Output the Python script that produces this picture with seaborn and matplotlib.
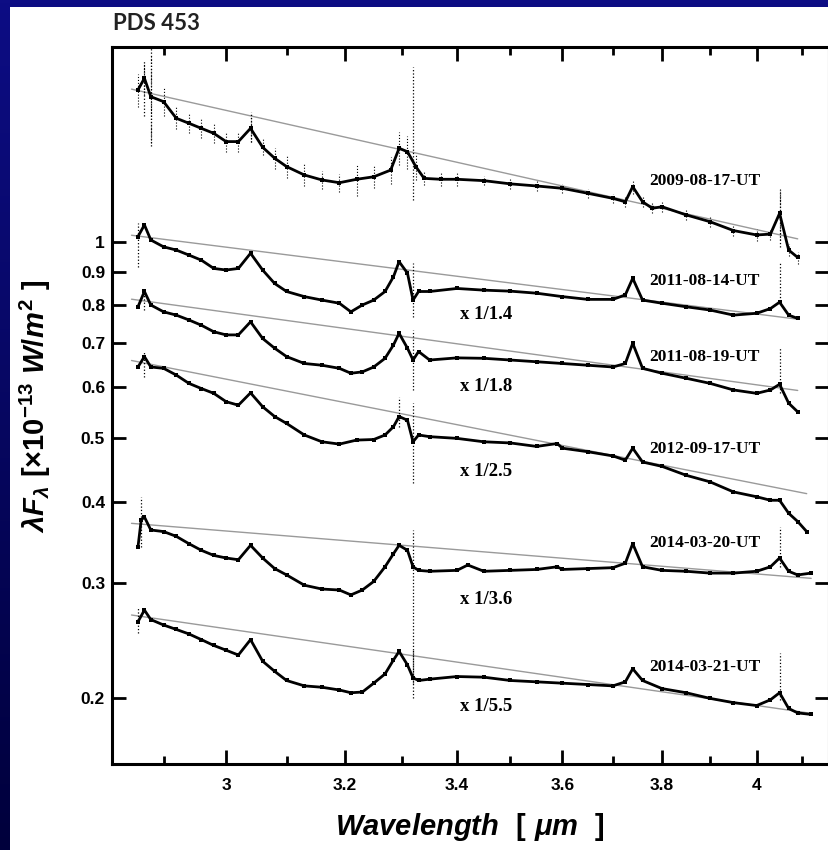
import numpy as np
import pandas as pd
import seaborn as sns
import matplotlib.pyplot as plt
from matplotlib.colors import LinearSegmentedColormap
from matplotlib.patches import Rectangle
from matplotlib.ticker import NullFormatter

# observation epochs and the scaling applied to each spectrum
epochs = ['2009-08-17-UT', '2011-08-14-UT', '2011-08-19-UT',
          '2012-09-17-UT', '2014-03-20-UT', '2014-03-21-UT']
scales = ['', 'x 1/1.4', 'x 1/1.8', 'x 1/2.5', 'x 1/3.6', 'x 1/5.5']

# spectra (wavelength in micron, lambda F_lambda in 1e-13 W/m2)
wl_1 = [2.86, 2.87, 2.88, 2.90, 2.92, 2.94, 2.96, 2.98, 3.00, 3.02, 3.04, 3.06, 3.08,
        3.10, 3.13, 3.16, 3.19, 3.22, 3.25, 3.28, 3.295, 3.31, 3.325, 3.34, 3.37, 3.40,
        3.45, 3.50, 3.55, 3.60, 3.65, 3.70, 3.725, 3.74, 3.76, 3.78, 3.80, 3.85, 3.90,
        3.95, 4.00, 4.03, 4.05, 4.07, 4.09]
flux_1 = [1.707, 1.779, 1.667, 1.638, 1.545, 1.518, 1.491, 1.465, 1.423, 1.423, 1.491,
          1.395, 1.342, 1.303, 1.265, 1.243, 1.231, 1.246, 1.257, 1.287, 1.390, 1.373,
          1.303, 1.250, 1.246, 1.246, 1.240, 1.226, 1.217, 1.207, 1.186, 1.165, 1.151,
          1.214, 1.151, 1.125, 1.131, 1.099, 1.073, 1.040, 1.024, 1.027, 1.105, 0.971,
          0.946]
err_1 = [0.10, 0.10, 0.25, 0.08, 0.06, 0.05, 0.05, 0.05, 0.05, 0.05, 0.07, 0.04, 0.05,
         0.05, 0.05, 0.04, 0.04, 0.07, 0.05, 0.06, 0.08, 0.08, 0.06, 0.03, 0.03, 0.03,
         0.02, 0.02, 0.02, 0.02, 0.02, 0.02, 0.02, 0.03, 0.02, 0.02, 0.02, 0.02, 0.02,
         0.02, 0.02, 0.02, 0.10, 0.02, 0.02]

wl_2 = [2.86, 2.87, 2.88, 2.90, 2.92, 2.94, 2.96, 2.98, 3.00, 3.02, 3.04, 3.06, 3.08,
        3.10, 3.13, 3.16, 3.19, 3.21, 3.23, 3.25, 3.27, 3.285, 3.295, 3.31, 3.32, 3.33,
        3.35, 3.40, 3.45, 3.50, 3.55, 3.60, 3.65, 3.70, 3.725, 3.74, 3.76, 3.80, 3.85,
        3.90, 3.95, 4.00, 4.03, 4.05, 4.07, 4.09]
flux_2 = [1.018, 1.061, 1.006, 0.982, 0.971, 0.954, 0.937, 0.910, 0.905, 0.910, 0.960,
          0.905, 0.863, 0.839, 0.824, 0.814, 0.805, 0.781, 0.800, 0.814, 0.839, 0.884,
          0.932, 0.895, 0.814, 0.839, 0.839, 0.848, 0.843, 0.840, 0.834, 0.824, 0.816,
          0.816, 0.829, 0.879, 0.814, 0.805, 0.795, 0.786, 0.772, 0.777, 0.790, 0.808,
          0.772, 0.763]

wl_3 = wl_2
flux_3 = [0.795, 0.839, 0.800, 0.781, 0.772, 0.759, 0.745, 0.728, 0.720, 0.720, 0.754,
          0.711, 0.687, 0.667, 0.651, 0.647, 0.640, 0.629, 0.632, 0.643, 0.663, 0.695,
          0.724, 0.687, 0.659, 0.679, 0.659, 0.664, 0.663, 0.659, 0.655, 0.651, 0.647,
          0.643, 0.651, 0.699, 0.640, 0.629, 0.618, 0.607, 0.593, 0.586, 0.593, 0.605,
          0.566, 0.549]

wl_4 = [2.86, 2.87, 2.88, 2.90, 2.92, 2.94, 2.96, 2.98, 3.00, 3.02, 3.04, 3.06, 3.08,
        3.10, 3.13, 3.16, 3.19, 3.22, 3.25, 3.27, 3.285, 3.295, 3.31, 3.32, 3.33, 3.35,
        3.40, 3.45, 3.50, 3.55, 3.59, 3.60, 3.65, 3.70, 3.725, 3.74, 3.76, 3.80, 3.85,
        3.90, 3.95, 4.00, 4.03, 4.05, 4.07, 4.09, 4.11]
flux_4 = [0.643, 0.667, 0.643, 0.640, 0.625, 0.607, 0.596, 0.586, 0.569, 0.562, 0.587,
          0.559, 0.540, 0.527, 0.506, 0.494, 0.490, 0.497, 0.498, 0.506, 0.521, 0.540,
          0.533, 0.494, 0.506, 0.503, 0.500, 0.494, 0.492, 0.486, 0.491, 0.483, 0.477,
          0.470, 0.463, 0.483, 0.460, 0.453, 0.439, 0.429, 0.414, 0.407, 0.402, 0.402,
          0.384, 0.373, 0.360]

wl_5 = [2.86, 2.865, 2.87, 2.88, 2.90, 2.92, 2.94, 2.96, 2.98, 3.00, 3.02, 3.04, 3.06,
        3.08, 3.10, 3.13, 3.16, 3.19, 3.21, 3.23, 3.25, 3.27, 3.285, 3.295, 3.31, 3.32,
        3.33, 3.35, 3.40, 3.42, 3.45, 3.50, 3.55, 3.59, 3.60, 3.65, 3.70, 3.725, 3.74,
        3.76, 3.80, 3.85, 3.90, 3.95, 4.00, 4.03, 4.05, 4.07, 4.09, 4.12]
flux_5 = [0.341, 0.375, 0.379, 0.362, 0.360, 0.354, 0.345, 0.337, 0.331, 0.328, 0.326,
          0.343, 0.328, 0.316, 0.309, 0.298, 0.294, 0.293, 0.288, 0.293, 0.302, 0.318,
          0.333, 0.343, 0.337, 0.318, 0.314, 0.313, 0.314, 0.320, 0.313, 0.314, 0.315,
          0.318, 0.315, 0.316, 0.317, 0.322, 0.345, 0.318, 0.314, 0.313, 0.311, 0.311,
          0.313, 0.318, 0.328, 0.313, 0.309, 0.311]

wl_6 = [2.86, 2.87, 2.88, 2.90, 2.92, 2.94, 2.96, 2.98, 3.00, 3.02, 3.04, 3.06, 3.08,
        3.10, 3.13, 3.16, 3.19, 3.21, 3.23, 3.25, 3.27, 3.285, 3.295, 3.31, 3.32, 3.33,
        3.35, 3.40, 3.45, 3.50, 3.55, 3.60, 3.65, 3.70, 3.725, 3.74, 3.76, 3.80, 3.85,
        3.90, 3.95, 4.00, 4.03, 4.05, 4.07, 4.09, 4.12]
flux_6 = [0.262, 0.273, 0.264, 0.259, 0.255, 0.251, 0.246, 0.241, 0.237, 0.233, 0.246,
          0.228, 0.220, 0.213, 0.209, 0.208, 0.206, 0.204, 0.2045, 0.211, 0.218, 0.229,
          0.236, 0.225, 0.215, 0.213, 0.214, 0.216, 0.2155, 0.213, 0.212, 0.211, 0.210,
          0.209, 0.212, 0.222, 0.213, 0.207, 0.204, 0.200, 0.197, 0.195, 0.199, 0.204,
          0.193, 0.190, 0.189]

# large error bars (wavelength, low, high) at telluric / line positions
spikes = [
    [(2.87, 1.56, 1.90), (2.88, 1.40, 1.98), (3.04, 1.42, 1.58), (3.32, 1.16, 1.85), (4.05, 0.98, 1.20)],
    [(2.86, 0.914, 1.068), (3.32, 0.766, 0.927), (4.05, 0.81, 0.93)],
    [(2.87, 0.786, 0.852), (3.32, 0.592, 0.732), (4.05, 0.587, 0.690)],
    [(2.87, 0.621, 0.678), (3.295, 0.521, 0.578), (3.32, 0.427, 0.566)],
    [(2.865, 0.341, 0.407), (3.32, 0.211, 0.362), (4.05, 0.318, 0.366)],
    [(2.86, 0.252, 0.276), (3.32, 0.200, 0.237), (4.05, 0.199, 0.235)],
]

# power-law continuum lines: end points
cont_wl0 = [2.85, 2.85, 2.85, 2.85, 2.85, 2.85]
cont_wl1 = [4.09, 4.09, 4.09, 4.11, 4.12, 4.12]
cont_f0 = [1.712, 1.023, 0.8165, 0.6579, 0.3706, 0.2683]
cont_f1 = [1.010, 0.761, 0.592, 0.4115, 0.3053, 0.1897]

wls = [wl_1, wl_2, wl_3, wl_4, wl_5, wl_6]
fluxes = [flux_1, flux_2, flux_3, flux_4, flux_5, flux_6]

spec = pd.concat([pd.DataFrame({'wl': w, 'flux': f, 'epoch': e})
                  for w, f, e in zip(wls, fluxes, epochs)], ignore_index=True)
cont = pd.concat([pd.DataFrame({'wl': [a, b], 'flux': [c, d], 'epoch': e})
                  for a, b, c, d, e in zip(cont_wl0, cont_wl1, cont_f0, cont_f1, epochs)],
                 ignore_index=True)

sns.set_style('ticks')
plt.rcParams['font.family'] = ['Liberation Sans', 'DejaVu Sans']
plt.rcParams['mathtext.fontset'] = 'custom'
plt.rcParams['mathtext.rm'] = 'Liberation Sans:bold'
plt.rcParams['mathtext.it'] = 'Liberation Sans:bold:italic'

fig = plt.figure(figsize=(8.29, 8.50), dpi=100)

# slide background: blue gradient with a white panel
bg = fig.add_axes([0, 0, 1, 1], zorder=-10)
grad = np.linspace(0, 1, 256).reshape(-1, 1)
bg.imshow(grad, aspect='auto', extent=[0, 1, 0, 1],
          cmap=LinearSegmentedColormap.from_list('slide', ['#0d0d84', '#00003c']))
bg.add_patch(Rectangle((10 / 829, 0), 1, 1 - 7 / 850, transform=bg.transAxes,
                       facecolor='white', edgecolor='none'))
bg.set_axis_off()

ax = fig.add_axes([112 / 829, 1 - 764 / 850, 717 / 829, 717 / 850])
ax.set_xscale('log')
ax.set_yscale('log')

sns.lineplot(data=cont, x='wl', y='flux', units='epoch', estimator=None, sort=False,
             color='#9a9a9a', lw=1.0, ax=ax, legend=False)
sns.lineplot(data=spec, x='wl', y='flux', units='epoch', estimator=None, sort=False,
             color='black', lw=2.0, marker='s', markersize=3.5, markeredgewidth=0,
             ax=ax, legend=False)

# error bars of the first spectrum
lo1 = np.array(flux_1) - np.array(err_1)
hi1 = np.array(flux_1) + np.array(err_1)
ax.vlines(wl_1, lo1, hi1, colors='black', linestyles=':', lw=0.8)
for sp in spikes:
    ax.vlines([s[0] for s in sp], [s[1] for s in sp], [s[2] for s in sp],
              colors='black', linestyles=':', lw=0.9)

date_y = [1.239, 0.871, 0.666, 0.4816, 0.3457, 0.2233]
scale_y = [None, 0.775, 0.601, 0.4456, 0.2838, 0.1946]
for e, s, dy, sy in zip(epochs, scales, date_y, scale_y):
    ax.text(3.774, dy, e, family='Liberation Serif', fontsize=12.5, fontweight='bold',
            ha='left', va='center', color='black')
    if s:
        ax.text(3.406, sy, s, family='Liberation Serif', fontsize=13.5, fontweight='bold',
                ha='left', va='center', color='black')

ax.set_xlim(2.82, 4.16)
ax.set_ylim(0.1587, 1.986)
ax.minorticks_off()
ax.set_xticks([3.0, 3.2, 3.4, 3.6, 3.8, 4.0])
ax.set_xticklabels(['3', '3.2', '3.4', '3.6', '3.8', '4'])
ax.set_xticks([2.9, 3.1, 3.3, 3.5, 3.7, 3.9, 4.1], minor=True)
ax.xaxis.set_minor_formatter(NullFormatter())
ax.set_yticks([0.2, 0.3, 0.4, 0.5, 0.6, 0.7, 0.8, 0.9, 1.0])
ax.set_yticklabels(['0.2', '0.3', '0.4', '0.5', '0.6', '0.7', '0.8', '0.9', '1'])
ax.yaxis.set_minor_formatter(NullFormatter())
ax.tick_params(which='both', direction='in', top=True, right=True, width=2,
               labelsize=12.5, colors='black')
ax.tick_params(which='major', length=10)
ax.tick_params(which='minor', length=6)
ax.tick_params(axis='x', pad=10)
ax.tick_params(axis='y', pad=5)
for lab in ax.get_xticklabels() + ax.get_yticklabels():
    lab.set_fontweight('bold')
for sp in ax.spines.values():
    sp.set_linewidth(2.2)
    sp.set_color('black')

ax.set_xlabel(r'$Wavelength\ \ [\ \mu m\ \ ]$', fontsize=21, color='black')
ax.xaxis.set_label_coords(0.499, -0.066)
ax.set_ylabel(r'$\lambda F_{\lambda}\ [\times 10^{-13}\ W/m^{2}\ ]$', fontsize=21,
              color='black')
ax.yaxis.set_label_coords(-0.082, 0.498)

fig.text(113 / 829, 1 - 23 / 850, 'PDS 453', family=['Lato', 'DejaVu Sans'],
         fontsize=16, fontweight='bold', color='#222222', ha='left', va='center')

fig.savefig('out.png', dpi=100)
